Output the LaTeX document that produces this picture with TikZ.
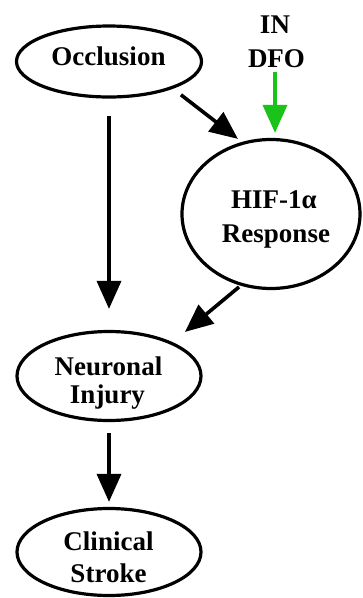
\documentclass[tikz,border=0pt]{standalone}
\usepackage{fontspec}
\setmainfont{Liberation Serif}
\usetikzlibrary{shapes.geometric,arrows.meta}
\definecolor{dfogreen}{RGB}{25,195,25}
\tikzset{
  ell/.style={draw=black, line width=3.2pt, ellipse, inner sep=0pt},
  txt/.style={font=\fontsize{27}{32}\selectfont\bfseries, inner sep=0pt, anchor=base},
  arr/.style={draw=black, line width=3.6pt, -{Triangle[length=28pt,width=24pt]}},
  garr/.style={draw=dfogreen, line width=3.6pt, -{Triangle[length=28pt,width=24pt]}}
}
\begin{document}
\begin{tikzpicture}[x=1pt,y=-1pt]
\useasboundingbox (0,0) rectangle (363,598);
% ellipses
\node[ell, minimum width=185pt, minimum height=71pt] (occ) at (109,61.5) {};
\node[ell, minimum width=178pt, minimum height=149pt] (hif) at (271,214) {};
\node[ell, minimum width=184pt, minimum height=89pt] (neu) at (109,376) {};
\node[ell, minimum width=184pt, minimum height=87pt] (cli) at (109,552) {};
% texts
\node[txt] (occT) at (108.5,65) {Occlusion};
\node[txt] (inT) at (275,33) {IN};
\node[txt] (dfoT) at (276.5,67) {DFO};
\node[txt] (hifT) at (274,208) {HIF-1α};
\node[txt] (resT) at (276,242) {Response};
\node[txt] (neuT) at (108.5,375) {Neuronal};
\node[txt] (injT) at (107.5,403) {Injury};
\node[txt] (cliT) at (108.5,550) {Clinical};
\node[txt] (strT) at (108.5,582) {Stroke};
% connectors
\draw[arr, shorten <=17pt, shorten >=21pt] (occ.south) -- (neu.north);
\draw[arr, shorten <=10pt, shorten >=5pt] (occ.-23) -- (hif.112);
\draw[garr, shorten <=5pt, shorten >=5pt] (dfoT.south -| inT.south) -- (inT.south |- hif.north);
\draw[arr, shorten <=2pt, shorten >=16pt] (hif.-113) -- (neu.28);
\draw[arr, shorten <=11pt, shorten >=5pt] (neu.south) -- (cli.north);
\end{tikzpicture}
\end{document}
